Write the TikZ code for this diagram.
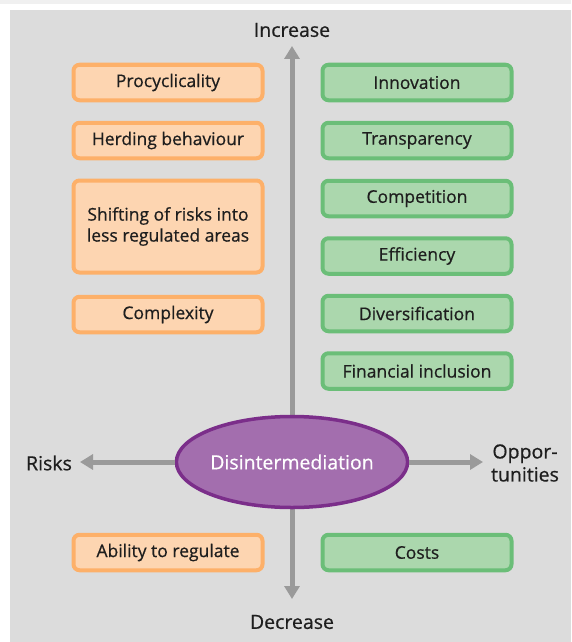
\documentclass[tikz,border=0pt]{standalone}
\usepackage{fontspec}
\setmainfont{Open Sans}[FakeBold=0.6]
\usetikzlibrary{arrows.meta,shapes.geometric}
\definecolor{panel}{HTML}{DCDCDC}
\definecolor{topstrip}{HTML}{F0F0F0}
\definecolor{obord}{HTML}{FDB069}
\definecolor{ofill}{HTML}{FDD5B1}
\definecolor{gbord}{HTML}{6BBE78}
\definecolor{gfill}{HTML}{ABD7AD}
\definecolor{pfill}{HTML}{A36EAE}
\definecolor{pbord}{HTML}{7B2E8A}
\definecolor{arr}{HTML}{9A9A9A}
\definecolor{txt}{HTML}{1E1E1E}
\tikzset{
  x=1pt,y=-1pt,
  every node/.style={font=\fontsize{17.5}{21}\selectfont, text=txt},
  riskbox/.style={draw=obord, fill=ofill, line width=4pt, rounded corners=6pt,
    minimum width=189pt, minimum height=35.5pt, align=center, inner sep=0pt},
  oppbox/.style={draw=gbord, fill=gfill, line width=4pt, rounded corners=6pt,
    minimum width=189pt, minimum height=35.5pt, align=center, inner sep=0pt},
  axis/.style={draw=arr, line width=5pt, -{Triangle[width=15pt,length=13pt]}},
  lab/.style={font=\fontsize{19.5}{22}\selectfont, inner sep=0pt, align=center}
}
\begin{document}
\begin{tikzpicture}
\useasboundingbox (0,0) rectangle (571,642);
\fill[white] (0,0) rectangle (571,642);
\fill[topstrip] (0,0) rectangle (571,4);
\fill[panel] (10,10) rectangle (571,642);

\node[lab] (inc) at (292,30) {Increase};
\node[lab] (dec) at (292,622) {Decrease};
\node[lab, anchor=center] (risks) at (49,463) {Risks};
\node[lab, font=\fontsize{19.5}{23}\selectfont] (opp) at (525,463) {Oppor-\\tunities};
\coordinate (ttop) at (292,46);
\coordinate (tbot) at (292,599);

\node[riskbox] (proc) at (168,82.5) {Procyclicality};
\node[riskbox] (herd) at (168,140.5) {Herding behaviour};
\node[riskbox, minimum height=92pt] (shift) at (168,226.5) {Shifting of risks into\\less regulated areas};
\node[riskbox] (comp) at (168,314.5) {Complexity};
\node[riskbox] (abil) at (168,552.5) {Ability to regulate};

\node[oppbox] (innov) at (417,82.5) {Innovation};
\node[oppbox] (trans) at (417,140.5) {Transparency};
\node[oppbox] (compet) at (417,198.5) {Competition};
\node[oppbox] (eff) at (417,256) {Efficiency};
\node[oppbox] (div) at (417,313.5) {Diversification};
\node[oppbox] (fin) at (417,371) {Financial inclusion};
\node[oppbox] (costs) at (417,552.5) {Costs};

\draw[axis] (292,415) -- (ttop);
\draw[axis] (292,509) -- (tbot);

\node[ellipse, draw=pbord, fill=pfill, line width=3.5pt, minimum width=226pt, minimum height=91pt,
  inner sep=0pt, text=white, font=\fontsize{19.5}{22}\selectfont] (dis) at (292,462) {Disintermediation};

\draw[axis] (dis.west) -- (80,462);
\draw[axis] (dis.east) -- (483,462);
\end{tikzpicture}
\end{document}
